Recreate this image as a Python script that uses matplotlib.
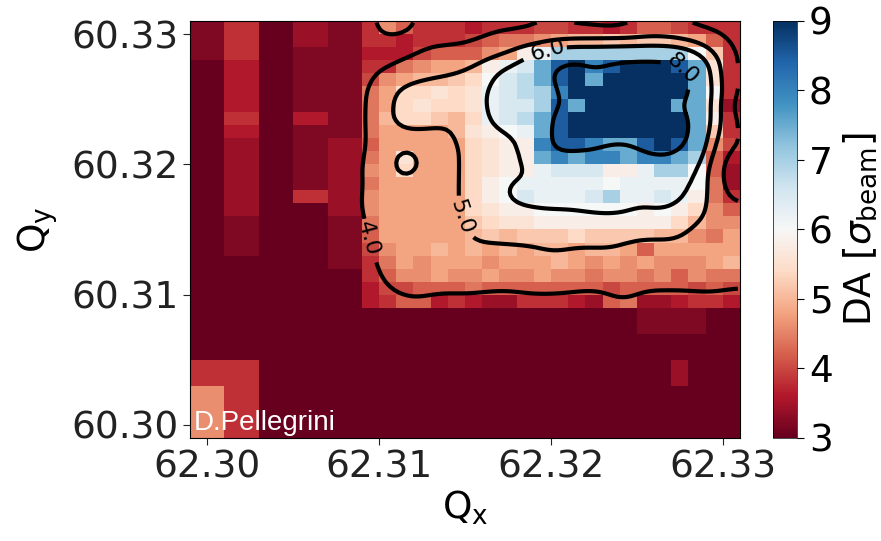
import numpy as np
import matplotlib
matplotlib.use("Agg")
import matplotlib.pyplot as plt

# DA scan over the tune plane, one cell per 0.001 in Qx and Qy.
# Each character is one cell, rows run from top (Qy = 60.3305) to bottom.
DA_CODES = {'0': 3.0, '1': 3.2, '2': 3.4, '3': 3.6, '4': 3.8, '5': 4.0,
            '6': 4.2, '7': 4.4, '8': 4.6, '9': 4.8, 'a': 5.0, 'b': 5.2,
            'c': 5.4, 'd': 5.6, 'e': 5.8, 'f': 6.0, 'g': 6.2, 'h': 6.5,
            'i': 6.8, 'j': 7.0, 'k': 7.5, 'l': 8.0, 'm': 8.5, 'n': 9.0}

da_rows = [
    "1144002211 48644 43444 55443 46654 44",
    "1144002211 44344 45677 89aab abba9 64",
    "1144001111 33356 6689e gjjjj jjjjf b4",
    "0033001111 44789 9aegh kmnlm nnnmk d4",
    "0033001111 589aa bcfhi kmnkn nnnnk d4",
    "0033001111 79ccd cdghi jlnnn nnnnk f4",
    "0033001111 79cdc cdghh jmknn nnnkk d2",
    "0044003311 7accb acghi kmnnn nnnnk e4",
    "0033001111 79999 adefg kmnnn nnnnk b4",
    "0022001122 69999 9cdee lmmlk kmnmk 85",
    "0022001122 79d99 9cdee klkll kllkj 63",
    "0022001122 89c99 9cdee ghhhe egjjf 62",
    "0022001122 79999 9cefg ggggf ggggf 72",
    "0022004422 89999 9cefh ggghj gghge 74",
    "0022000022 89999 9cdee fffff fefec 86",
    "0011000011 79999 9bcdd eeeee eeeca 88",
    "0011000011 69999 9abab bbcbb bbaa8 79",
    "0011000011 5899a 9a9a9 aa9aa 96999 99",
    "0000000011 47989 99899 9a989 89888 9a",
    "0000000000 46889 88988 98878 87868 77",
    "0000000000 35566 67666 66665 66665 65",
    "0000000000 34663 43224 44326 72234 43",
    "0000000000 00000 00000 00000 01111 00",
    "0000000000 00000 00000 00000 01111 00",
    "0000000000 00000 00000 00000 00000 00",
    "0000000000 00000 00000 00000 00000 00",
    "4444000000 00000 00000 00000 00020 00",
    "4444000000 00000 00000 00000 00020 00",
    "8844000000 00000 00000 00000 00000 00",
    "8844000000 00000 00000 00000 00000 00",
    "8844000000 00000 00000 00000 00000 00",
    "8844000000 00000 00000 00000 00000 00",
]

qx_start, qy_start, q_step = 62.299, 60.299, 0.001
qy_fine_scan = 60.309  # iso-DA lines only over the fine scan band
contour_levels = [4.0, 5.0, 6.0, 8.0]
label_spots = [(62.3099, 60.3145), (62.3148, 60.3160),
               (62.3198, 60.3289), (62.3277, 60.3274)]

da = np.array([[DA_CODES[c] for c in row.replace(" ", "")] for row in da_rows])
da = np.flipud(da)
ny, nx = da.shape
qx_edges = qx_start + q_step * np.arange(nx + 1)
qy_edges = qy_start + q_step * np.arange(ny + 1)

# smoothed, finer copy of the scan for the iso-DA lines
up = 4
fine = np.repeat(np.repeat(da, up, axis=0), up, axis=1)
sig = 3.0
half = 9
g = np.exp(-0.5 * (np.arange(-half, half + 1) / sig) ** 2)
g /= g.sum()
pad = np.pad(fine, half, mode="edge")
pad = np.apply_along_axis(lambda v: np.convolve(v, g, mode="same"), 0, pad)
pad = np.apply_along_axis(lambda v: np.convolve(v, g, mode="same"), 1, pad)
smooth = pad[half:-half, half:-half]
qx_fine = qx_start + q_step / up * (np.arange(nx * up) + 0.5)
qy_fine = qy_start + q_step / up * (np.arange(ny * up) + 0.5)
keep = qy_fine > qy_fine_scan

fig = plt.figure(figsize=(8.81, 5.41), dpi=100)
ax = fig.add_axes([0.2157, 0.1904, 0.6243, 0.7708])
cax = fig.add_axes([0.8774, 0.1904, 0.0272, 0.7708])

mesh = ax.pcolormesh(qx_edges, qy_edges, da, cmap="RdBu", vmin=3, vmax=9)
cs = ax.contour(qx_fine, qy_fine[keep], smooth[keep], levels=contour_levels,
                colors="black", linewidths=3)
ax.clabel(cs, fmt="%.1f", fontsize=16, inline=True, manual=label_spots)

ax.set_xlim(qx_edges[0], qx_edges[-1])
ax.set_ylim(qy_edges[0], qy_edges[-1])
ax.set_xticks([62.30, 62.31, 62.32, 62.33])
ax.set_yticks([60.30, 60.31, 60.32, 60.33])
ax.set_xticklabels(["62.30", "62.31", "62.32", "62.33"])
ax.set_yticklabels(["60.30", "60.31", "60.32", "60.33"])
ax.tick_params(labelsize=27, length=5, colors="#222222")
ax.set_xlabel(r"Q$_\mathrm{x}$", fontsize=27, labelpad=2)
ax.set_ylabel(r"Q$_\mathrm{y}$", fontsize=27, labelpad=8)

ax.text(0.006, 0.004, "D.Pellegrini", transform=ax.transAxes, color="white",
        fontsize=20, family="Liberation Sans", ha="left", va="bottom")

cb = fig.colorbar(mesh, cax=cax, ticks=range(3, 10))
cb.ax.tick_params(labelsize=27, length=5)
cb.set_label(r"DA [$\sigma_\mathrm{beam}$]", fontsize=27, labelpad=6)
cb.outline.set_linewidth(0.5)

fig.savefig("out.png", dpi=100)
